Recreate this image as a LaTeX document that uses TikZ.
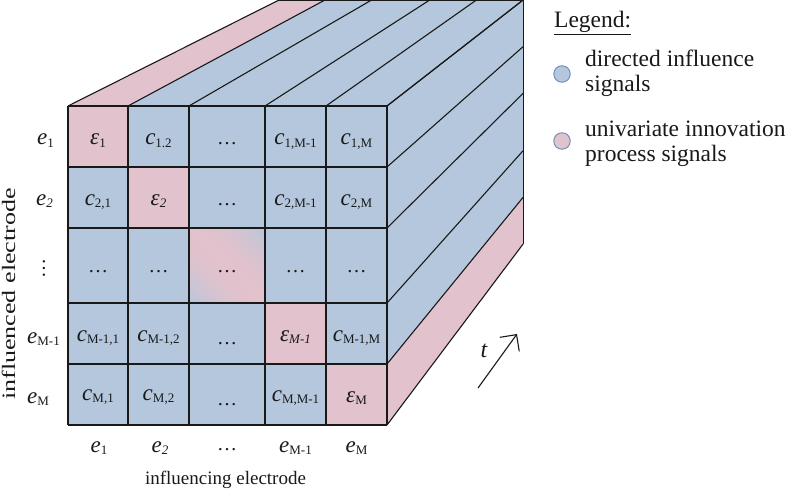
\documentclass[tikz,border=0pt]{standalone}
\usepackage{fontspec}
\setmainfont{Liberation Serif}
\usepackage{graphicx}
\usetikzlibrary{calc,arrows.meta}
\definecolor{cblue}{RGB}{181,199,221}
\definecolor{cpink}{RGB}{226,194,204}
\definecolor{ink}{RGB}{25,25,25}
\definecolor{ringblue}{RGB}{105,138,190}
\newcommand\sbs[1]{\raisebox{-2.5pt}{\fontsize{13}{13}\selectfont #1}}
\newcommand\cc[1]{{\itshape c}\sbs{#1}}
\newcommand\ee[1]{{\itshape e}\sbs{#1}}
\newcommand\eps[1]{{\itshape ε}\sbs{#1}}
\newcommand\dts{{\fontsize{20}{20}\selectfont …}}
\begin{document}
\begin{tikzpicture}[x=1pt,y=-1pt,
  celltext/.style={font=\fontsize{23}{23}\selectfont, text=ink, anchor=base, inner sep=0pt},
  rowlabel/.style={font=\fontsize{23}{23}\selectfont, text=ink, anchor=base west, inner sep=0pt},
  legtext/.style={font=\fontsize{23.5}{23.5}\selectfont, text=ink, anchor=base west, inner sep=0pt},
  gridline/.style={draw=ink, line width=1.4pt, line join=round},
  depthline/.style={draw=ink, line width=1.1pt, line join=round},
  legdot/.style={circle, draw=ringblue, line width=0.9pt, minimum size=16.5pt, inner sep=0pt}]
\useasboundingbox (0,0) rectangle (787,492);
\coordinate (vp) at (966,-345);
\foreach \x [count=\i from 0] in {68,128,189,265,326,387}{
  \foreach \y [count=\j from 0] in {106,167,228,303,364,425}{
    \coordinate (f\i-\j) at (\x,\y);
  }
}
\foreach \i in {0,...,5}{
  \coordinate (bt\i) at ($(vp)!0.765!(f\i-0)$);
  \coordinate (br\i) at ($(vp)!0.765!(f5-\i)$);
}
% top strips
\foreach \i/\col in {0/cpink,1/cblue,2/cblue,3/cblue,4/cblue}{
  \pgfmathtruncatemacro\ii{\i+1}
  \fill[\col] (f\i-0) -- (f\ii-0) -- (bt\ii) -- (bt\i) -- cycle;
}
% right strips
\foreach \j/\col in {0/cblue,1/cblue,2/cblue,3/cblue,4/cpink}{
  \pgfmathtruncatemacro\jj{\j+1}
  \fill[\col] (f5-\j) -- (f5-\jj) -- (br\jj) -- (br\j) -- cycle;
}
% front cells
\fill[cblue] (f0-0) rectangle (f5-5);
\fill[cpink] (f0-0) rectangle (f1-1);
\fill[cpink] (f1-1) rectangle (f2-2);
\fill[cpink] (f3-3) rectangle (f4-4);
\fill[cpink] (f4-4) rectangle (f5-5);
\coordinate (gc) at ($(f2-2)!0.5!(f3-3)$);
\begin{scope}
  \clip (f2-2) rectangle (f3-3);
  \begin{scope}[shift={(gc)}, rotate=-45]
    \foreach \k in {0,...,39}{
      \pgfmathsetmacro\ya{-54+\k*2.7}
      \pgfmathsetmacro\yb{\ya+3.3}
      \pgfmathsetmacro\pp{max(0,100*(1-((\ya+1.35)/54)^2))}
      \fill[cpink!\pp!cblue] (-90,\ya) rectangle (90,\yb);
    }
  \end{scope}
\end{scope}
% depth lines
\foreach \i in {0,...,5}{
  \draw[depthline] (f\i-0) -- (bt\i);
  \draw[depthline] (f5-\i) -- (br\i);
}
\draw[depthline] (bt0) -- (bt5) -- (br5);
% front grid
\foreach \i in {0,...,5}{
  \draw[gridline] (f\i-0) -- (f\i-5);
  \draw[gridline] (f0-\i) -- (f5-\i);
}
% cell texts
\node[celltext] (m11) at (98,145) {\eps{1}};
\node[celltext] (m12) at (158.5,145) {\cc{1.2}};
\node[celltext] (m13) at (227,145) {\dts};
\node[celltext] (m14) at (295.5,145) {\cc{1,M-1}};
\node[celltext] (m15) at (356.5,145) {\cc{1,M}};
\node[celltext] (m21) at (98,205) {\cc{2,1}};
\node[celltext] (m22) at (158.5,205) {\eps{\itshape 2}};
\node[celltext] (m23) at (227,205) {\dts};
\node[celltext] (m24) at (295.5,205) {\cc{2,M-1}};
\node[celltext] (m25) at (356.5,205) {\cc{2,M}};
\node[celltext] (m31) at (98,272) {\dts};
\node[celltext] (m32) at (158.5,272) {\dts};
\node[celltext] (m33) at (227,272) {\dts};
\node[celltext] (m34) at (295.5,272) {\dts};
\node[celltext] (m35) at (356.5,272) {\dts};
\node[celltext] (m41) at (98,341) {\cc{M-1,1}};
\node[celltext] (m42) at (158.5,341) {\cc{M-1,2}};
\node[celltext] (m43) at (227,344) {\dts};
\node[celltext] (m44) at (295.5,341) {\eps{\itshape M-1}};
\node[celltext] (m45) at (356.5,341) {\cc{M-1,M}};
\node[celltext] (m51) at (98,400) {\cc{M,1}};
\node[celltext] (m52) at (158.5,400) {\cc{M,2}};
\node[celltext] (m53) at (227,405) {\dts};
\node[celltext] (m54) at (295.5,401) {\cc{M,M-1}};
\node[celltext] (m55) at (356.5,402) {\eps{M}};
% row labels
\node[rowlabel] (r1) at (37,145) {\ee{1}};
\node[rowlabel] (r2) at (36,205) {\ee{\itshape 2}};
\node[rotate=90, font=\fontsize{20}{20}\selectfont, text=ink, inner sep=0pt] (r3) at (44,268) {…};
\node[rowlabel] (r4) at (27,343) {\ee{M-1}};
\node[rowlabel] (r5) at (27,403) {\ee{M}};
% column labels
\node[celltext] (k1) at (99,452) {\ee{1}};
\node[celltext] (k2) at (160,452) {\ee{\itshape 2}};
\node[celltext] (k3) at (227,450) {\dts};
\node[celltext] (k4) at (295.5,452) {\ee{M-1}};
\node[celltext] (k5) at (356.5,452) {\ee{M}};
% axis labels
\node[font=\fontsize{19}{19}\selectfont, text=ink, anchor=base, inner sep=0pt] (xlab) at (225.5,484) {influencing electrode};
\node[rotate=90, anchor=base, inner sep=0pt, text=ink] (ylab) at (15,294) {\scalebox{1.37}[1]{\fontsize{19}{19}\selectfont influenced electrode}};
% time arrow
\coordinate (ta) at (478,388);
\coordinate (tb) at (517,334);
\draw[line width=1.1pt, ink, -{Straight Barb[length=12pt,width=24pt,line width=1.1pt]}] (ta) -- (tb);
\node[font=\fontsize{24}{24}\selectfont\itshape, text=ink, anchor=base, inner sep=0pt] (tl) at (484,357) {t};
% legend
\node[legtext] (lg) at (554,28) {\underline{Legend:}};
\node[legdot, fill=cblue] (d1) at (562,74) {};
\node[legdot, fill=cpink] (d2) at (562,141) {};
\node[legtext] (l1a) at (585,67) {directed influence};
\node[legtext] (l1b) at (585,92) {signals};
\node[legtext] (l2a) at (585,136) {univariate innovation};
\node[legtext] (l2b) at (585,161) {process signals};
\end{tikzpicture}
\end{document}
